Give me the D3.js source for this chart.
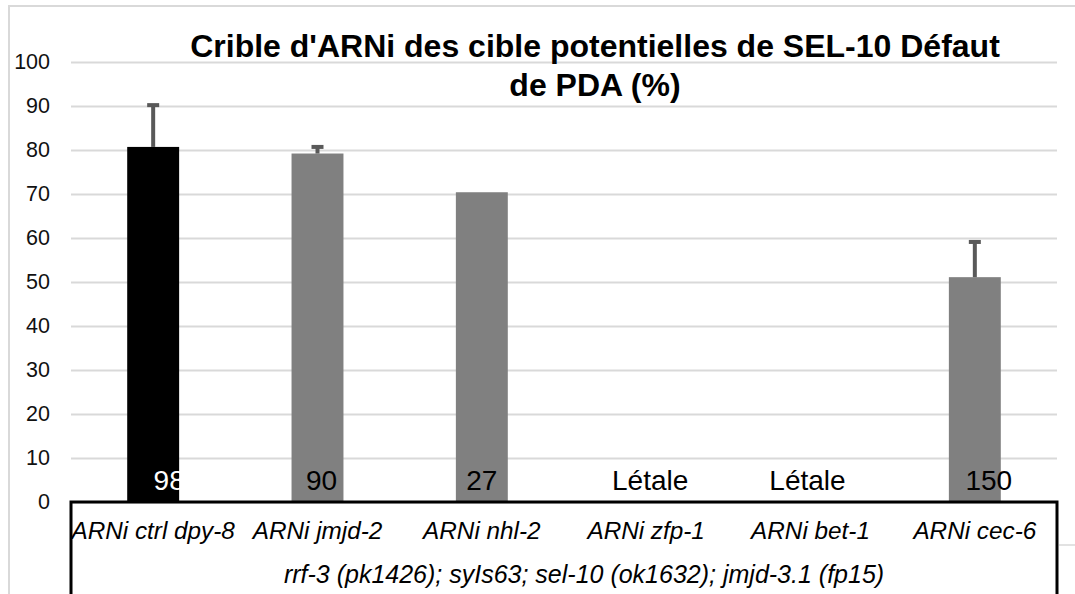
<!DOCTYPE html>
<html lang="fr">
<head>
<meta charset="UTF-8">
<title>Crible d'ARNi</title>
<script src="https://d3js.org/d3.v7.min.js"></script>
<style>
    body { margin: 0; background: #ffffff; }
    svg { display: block; font-family: "Liberation Sans", Arial, sans-serif; }
    .grid line { stroke: #d9d9d9; stroke-width: 2; }
    .grid text { font-size: 21.5px; fill: #111; }
    .cat { font-size: 24.3px; font-style: italic; fill: #000; }
    .group { font-size: 25px; }
    .lbl { font-size: 28px; }
    .title { font-size: 32px; font-weight: bold; fill: #000; }
</style>
</head>
<body>
<div id="chart"></div>
<script>
    // données
    const categories = ["ARNi ctrl dpy-8", "ARNi jmjd-2", "ARNi nhl-2", "ARNi zfp-1", "ARNi bet-1", "ARNi cec-6"];
    const values = [80.7, 79.2, 70.4, null, null, 51.1];
    const errors = [9.5, 1.5, null, null, null, 8];
    const barLabels = ["98", "90", "27", "Létale", "Létale", "150"];
    const barColors = ["#000000", "#808080", "#808080", "#808080", "#808080", "#808080"];
    const yTicks = [0, 10, 20, 30, 40, 50, 60, 70, 80, 90, 100];
    const groupLabel = "rrf-3 (pk1426); syIs63; sel-10 (ok1632); jmjd-3.1 (fp15)";
    const titleLines = ["Crible d'ARNi des cible potentielles de SEL-10 Défaut", "de PDA (%)"];

    const width = 1075, height = 594;
    const plotLeft = 71, plotRight = 1057, plotTop = 62, plotBase = 502;

    const svg = d3.select("#chart").append("svg")
        .attr("width", width)
        .attr("height", height);

    // cadre du graphique
    svg.append("rect")
        .attr("x", 9).attr("y", 6)
        .attr("width", 1300).attr("height", 800)
        .attr("fill", "none")
        .attr("stroke", "#d9d9d9")
        .attr("stroke-width", 2);

    const x = d3.scaleBand()
        .domain(categories)
        .range([plotLeft, plotRight])
        .paddingInner(0.684)
        .paddingOuter(0.342);

    const y = d3.scaleLinear()
        .domain([0, 100])
        .range([plotBase, plotTop]);

    const grid = svg.append("g")
        .attr("class", "grid")
        .attr("transform", `translate(${plotLeft},0)`)
        .call(d3.axisLeft(y).tickValues(yTicks).tickSize(-(plotRight - plotLeft)).tickPadding(21));
    grid.select(".domain").remove();

    // barres
    const data = categories.map((c, i) => ({ c, v: values[i], e: errors[i], lab: barLabels[i], col: barColors[i] }));

    svg.append("g").selectAll("rect")
        .data(data.filter(d => d.v != null))
        .enter().append("rect")
        .attr("x", d => x(d.c))
        .attr("y", d => y(d.v))
        .attr("width", x.bandwidth())
        .attr("height", d => y(0) - y(d.v))
        .attr("fill", d => d.col);

    // barres d'erreur
    const eb = svg.append("g").selectAll("g")
        .data(data.filter(d => d.v != null && d.e != null))
        .enter().append("g")
        .attr("stroke", "#595959")
        .attr("stroke-width", 4);
    eb.append("line")
        .attr("x1", d => x(d.c) + x.bandwidth() / 2)
        .attr("x2", d => x(d.c) + x.bandwidth() / 2)
        .attr("y1", d => y(d.v))
        .attr("y2", d => y(d.v + d.e));
    eb.append("line")
        .attr("x1", d => x(d.c) + x.bandwidth() / 2 - 6)
        .attr("x2", d => x(d.c) + x.bandwidth() / 2 + 6)
        .attr("y1", d => y(d.v + d.e))
        .attr("y2", d => y(d.v + d.e));

    // étiquettes des barres (décalage comme dans l'original)
    const labelNudge = [16, 4, 0, 4, -3, 14];
    svg.append("g").selectAll("text")
        .data(data)
        .enter().append("text")
        .attr("class", "lbl")
        .attr("x", (d, i) => x(d.c) + x.bandwidth() / 2 + labelNudge[i])
        .attr("y", plotBase - 12)
        .attr("text-anchor", "middle")
        .attr("fill", (d, i) => i === 0 ? "#ffffff" : "#000000")
        .text(d => d.lab);

    // axe des catégories (boîte)
    const axis = svg.append("g").attr("stroke", "#000").attr("stroke-width", 3).attr("fill", "none");
    axis.append("path")
        .attr("d", `M${plotLeft},${height + 2}V${plotBase}H${plotRight}V${height + 2}`);
    svg.append("line")
        .attr("x1", plotRight + 2).attr("x2", width)
        .attr("y1", 545).attr("y2", 545)
        .attr("stroke", "#d9d9d9").attr("stroke-width", 1.5);

    svg.append("g").selectAll("text")
        .data(categories)
        .enter().append("text")
        .attr("class", "cat")
        .attr("x", d => x(d) + x.bandwidth() / 2)
        .attr("y", 539)
        .attr("text-anchor", "middle")
        .text(d => d);

    svg.append("text")
        .attr("class", "cat group")
        .attr("x", (plotLeft + plotRight) / 2 + 20)
        .attr("y", 583)
        .attr("text-anchor", "middle")
        .text(groupLabel);

    // titre
    svg.append("g").selectAll("text")
        .data(titleLines)
        .enter().append("text")
        .attr("class", "title")
        .attr("x", 595)
        .attr("y", (d, i) => 57 + i * 39)
        .attr("text-anchor", "middle")
        .text(d => d);
</script>
</body>
</html>
